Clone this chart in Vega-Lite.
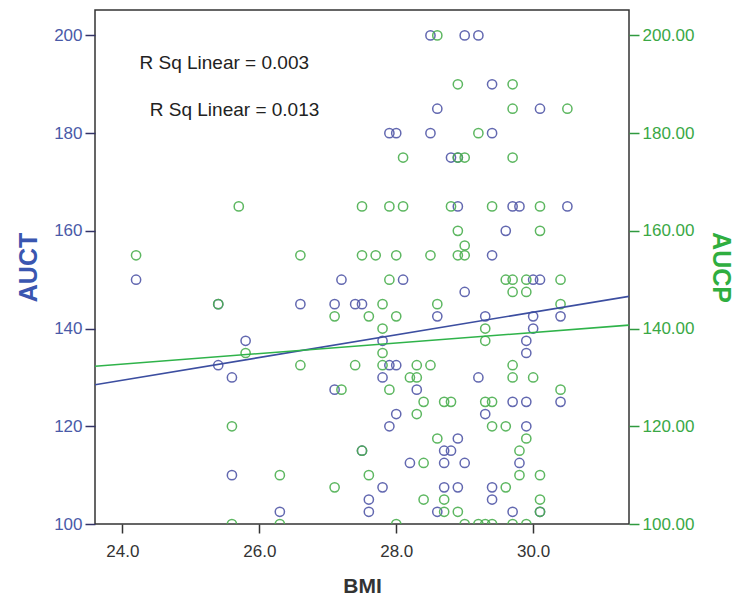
{
  "$schema": "https://vega.github.io/schema/vega-lite/v6.json",
  "width": 534,
  "height": 514,
  "autosize": {"type": "none"},
  "padding": {"left": 95, "top": 10, "right": 110, "bottom": 82},
  "background": "white",
  "config": {
    "view": {"stroke": "#333333", "strokeWidth": 1.5},
    "font": "Liberation Sans",
    "axis": {"grid": false, "labelFont": "Liberation Sans", "titleFont": "Liberation Sans"}
  },
  "datasets": {
    "auct": [
      {"bmi": 24.2, "v": 150}, {"bmi": 25.4, "v": 145}, {"bmi": 25.4, "v": 132.5}, {"bmi": 25.6, "v": 130},
      {"bmi": 25.8, "v": 137.5}, {"bmi": 25.6, "v": 110}, {"bmi": 26.3, "v": 102.5}, {"bmi": 26.6, "v": 145},
      {"bmi": 27.1, "v": 145}, {"bmi": 27.2, "v": 150}, {"bmi": 27.4, "v": 145}, {"bmi": 27.5, "v": 145},
      {"bmi": 27.1, "v": 127.5}, {"bmi": 27.5, "v": 115}, {"bmi": 27.6, "v": 105}, {"bmi": 27.6, "v": 102.5},
      {"bmi": 27.8, "v": 137.5}, {"bmi": 27.8, "v": 130}, {"bmi": 27.8, "v": 107.5}, {"bmi": 27.9, "v": 132.5},
      {"bmi": 28.0, "v": 132.5}, {"bmi": 27.9, "v": 120}, {"bmi": 28.0, "v": 122.5}, {"bmi": 27.9, "v": 180},
      {"bmi": 28.0, "v": 180}, {"bmi": 28.1, "v": 150}, {"bmi": 28.2, "v": 112.5}, {"bmi": 28.3, "v": 127.5},
      {"bmi": 28.5, "v": 200}, {"bmi": 28.5, "v": 180}, {"bmi": 28.6, "v": 185}, {"bmi": 28.6, "v": 142.5},
      {"bmi": 28.6, "v": 102.5}, {"bmi": 28.7, "v": 115}, {"bmi": 28.8, "v": 115}, {"bmi": 28.7, "v": 112.5},
      {"bmi": 28.7, "v": 107.5}, {"bmi": 28.8, "v": 175}, {"bmi": 28.9, "v": 175}, {"bmi": 28.9, "v": 165},
      {"bmi": 28.9, "v": 117.5}, {"bmi": 28.9, "v": 107.5}, {"bmi": 29.0, "v": 147.5}, {"bmi": 29.0, "v": 112.5},
      {"bmi": 29.0, "v": 200}, {"bmi": 29.2, "v": 200}, {"bmi": 29.2, "v": 130}, {"bmi": 29.3, "v": 142.5},
      {"bmi": 29.3, "v": 122.5}, {"bmi": 29.4, "v": 190}, {"bmi": 29.4, "v": 180}, {"bmi": 29.4, "v": 155},
      {"bmi": 29.4, "v": 107.5}, {"bmi": 29.4, "v": 105}, {"bmi": 29.6, "v": 160}, {"bmi": 29.7, "v": 165},
      {"bmi": 29.8, "v": 165}, {"bmi": 29.7, "v": 125}, {"bmi": 29.7, "v": 102.5}, {"bmi": 29.8, "v": 112.5},
      {"bmi": 29.9, "v": 137.5}, {"bmi": 29.9, "v": 135}, {"bmi": 29.9, "v": 125}, {"bmi": 29.9, "v": 120},
      {"bmi": 30.0, "v": 150}, {"bmi": 30.1, "v": 150}, {"bmi": 30.0, "v": 142.5}, {"bmi": 30.0, "v": 140},
      {"bmi": 30.1, "v": 185}, {"bmi": 30.1, "v": 102.5}, {"bmi": 30.4, "v": 142.5}, {"bmi": 30.4, "v": 125},
      {"bmi": 30.5, "v": 165}
    ],
    "aucp": [
      {"bmi": 24.2, "v": 155}, {"bmi": 25.4, "v": 145}, {"bmi": 25.7, "v": 165}, {"bmi": 25.6, "v": 120},
      {"bmi": 25.6, "v": 100}, {"bmi": 25.8, "v": 135}, {"bmi": 26.3, "v": 110}, {"bmi": 26.3, "v": 100},
      {"bmi": 26.6, "v": 155}, {"bmi": 26.6, "v": 132.5}, {"bmi": 27.1, "v": 142.5}, {"bmi": 27.1, "v": 107.5},
      {"bmi": 27.2, "v": 127.5}, {"bmi": 27.4, "v": 132.5}, {"bmi": 27.5, "v": 165}, {"bmi": 27.5, "v": 155},
      {"bmi": 27.5, "v": 115}, {"bmi": 27.6, "v": 142.5}, {"bmi": 27.6, "v": 110}, {"bmi": 27.7, "v": 155},
      {"bmi": 27.8, "v": 145}, {"bmi": 27.8, "v": 140}, {"bmi": 27.8, "v": 135}, {"bmi": 27.8, "v": 132.5},
      {"bmi": 27.9, "v": 165}, {"bmi": 27.9, "v": 150}, {"bmi": 27.9, "v": 127.5}, {"bmi": 28.0, "v": 155},
      {"bmi": 28.0, "v": 142.5}, {"bmi": 28.0, "v": 100}, {"bmi": 28.1, "v": 165}, {"bmi": 28.1, "v": 175},
      {"bmi": 28.2, "v": 130}, {"bmi": 28.3, "v": 132.5}, {"bmi": 28.3, "v": 130}, {"bmi": 28.3, "v": 122.5},
      {"bmi": 28.4, "v": 125}, {"bmi": 28.4, "v": 112.5}, {"bmi": 28.4, "v": 105}, {"bmi": 28.5, "v": 155},
      {"bmi": 28.5, "v": 132.5}, {"bmi": 28.6, "v": 145}, {"bmi": 28.6, "v": 117.5}, {"bmi": 28.7, "v": 125},
      {"bmi": 28.7, "v": 105}, {"bmi": 28.7, "v": 102.5}, {"bmi": 28.8, "v": 165}, {"bmi": 28.8, "v": 125},
      {"bmi": 28.9, "v": 190}, {"bmi": 28.9, "v": 175}, {"bmi": 29.0, "v": 175}, {"bmi": 28.9, "v": 160},
      {"bmi": 28.9, "v": 155}, {"bmi": 29.0, "v": 157}, {"bmi": 29.0, "v": 155}, {"bmi": 28.9, "v": 102.5},
      {"bmi": 29.0, "v": 100}, {"bmi": 29.2, "v": 180}, {"bmi": 29.2, "v": 100}, {"bmi": 29.3, "v": 140},
      {"bmi": 29.3, "v": 137.5}, {"bmi": 29.3, "v": 125}, {"bmi": 29.3, "v": 100}, {"bmi": 29.4, "v": 165},
      {"bmi": 29.4, "v": 125}, {"bmi": 29.4, "v": 120}, {"bmi": 29.4, "v": 100}, {"bmi": 29.6, "v": 150},
      {"bmi": 29.6, "v": 120}, {"bmi": 29.6, "v": 107.5}, {"bmi": 29.7, "v": 190}, {"bmi": 29.7, "v": 185},
      {"bmi": 29.7, "v": 175}, {"bmi": 29.7, "v": 150}, {"bmi": 29.7, "v": 147.5}, {"bmi": 29.7, "v": 132.5},
      {"bmi": 29.7, "v": 130}, {"bmi": 29.7, "v": 100}, {"bmi": 29.8, "v": 115}, {"bmi": 29.8, "v": 110},
      {"bmi": 29.9, "v": 150}, {"bmi": 29.9, "v": 147.5}, {"bmi": 29.9, "v": 117.5}, {"bmi": 29.9, "v": 100},
      {"bmi": 30.0, "v": 130}, {"bmi": 30.1, "v": 165}, {"bmi": 30.1, "v": 160}, {"bmi": 30.1, "v": 110},
      {"bmi": 30.1, "v": 105}, {"bmi": 30.1, "v": 102.5}, {"bmi": 30.4, "v": 150}, {"bmi": 30.4, "v": 145},
      {"bmi": 30.4, "v": 127.5}, {"bmi": 30.5, "v": 185}, {"bmi": 28.6, "v": 200}
    ],
    "fitT": [{"bmi": 23.6, "v": 128.5}, {"bmi": 31.4, "v": 146.6}],
    "fitP": [{"bmi": 23.6, "v": 132.3}, {"bmi": 31.4, "v": 140.7}],
    "labels": [
      {"bmi": 24.25, "v": 194.3, "t": "R Sq Linear = 0.003"},
      {"bmi": 24.4, "v": 184.8, "t": "R Sq Linear = 0.013"}
    ]
  },
  "layer": [
    {
      "data": {"name": "auct"},
      "mark": {"type": "point", "shape": "circle", "filled": false, "size": 85, "strokeWidth": 1.5, "color": "#5258a8", "opacity": 0.9, "clip": true},
      "encoding": {
        "x": {"field": "bmi", "type": "quantitative", "scale": {"domain": [23.6, 31.4], "nice": false, "zero": false},
          "axis": {"title": "BMI", "values": [24, 26, 28, 30], "format": ".1f", "domain": false, "tickColor": "#333333", "tickSize": 9, "tickWidth": 1.5,
            "labelColor": "#333333", "labelFontSize": 17, "labelPadding": 10, "titleFontSize": 21, "titleFontWeight": "bold", "titleColor": "#333333", "titlePadding": 16}},
        "y": {"field": "v", "type": "quantitative", "scale": {"domain": [100, 205.2], "nice": false, "zero": false},
          "axis": {"orient": "left", "title": "AUCT", "values": [100, 120, 140, 160, 180, 200], "format": "d", "domain": false, "tickColor": "#333366", "tickSize": 10, "tickWidth": 1.5,
            "labelColor": "#4a5aa8", "labelFontSize": 17, "labelPadding": 3, "titleFontSize": 25, "titleFontWeight": "bold", "titleColor": "#3a56b0", "titlePadding": 12}}
      }
    },
    {
      "data": {"name": "aucp"},
      "mark": {"type": "point", "shape": "circle", "filled": false, "size": 85, "strokeWidth": 1.5, "color": "#4cb050", "opacity": 0.9, "clip": true},
      "encoding": {
        "x": {"field": "bmi", "type": "quantitative"},
        "y": {"field": "v", "type": "quantitative", "scale": {"domain": [100, 205.2], "nice": false, "zero": false},
          "axis": {"orient": "right", "title": "AUCP", "values": [100, 120, 140, 160, 180, 200], "format": ".2f", "domain": false, "tickColor": "#2f9a3f", "tickSize": 10, "tickWidth": 1.5,
            "labelColor": "#3aa845", "labelFontSize": 17, "labelPadding": 3, "titleFontSize": 25, "titleFontWeight": "bold", "titleColor": "#2fae3f", "titlePadding": 14}}
      }
    },
    {
      "data": {"name": "fitT"},
      "mark": {"type": "line", "color": "#3c4ea0", "strokeWidth": 1.6, "clip": true},
      "encoding": {
        "x": {"field": "bmi", "type": "quantitative"},
        "y": {"field": "v", "type": "quantitative", "scale": {"domain": [100, 205.2], "nice": false, "zero": false}, "axis": null}
      }
    },
    {
      "data": {"name": "fitP"},
      "mark": {"type": "line", "color": "#2fb34a", "strokeWidth": 1.6, "clip": true},
      "encoding": {
        "x": {"field": "bmi", "type": "quantitative"},
        "y": {"field": "v", "type": "quantitative", "scale": {"domain": [100, 205.2], "nice": false, "zero": false}, "axis": null}
      }
    },
    {
      "data": {"name": "labels"},
      "mark": {"type": "text", "align": "left", "baseline": "middle", "fontSize": 19, "color": "#222222", "font": "Liberation Sans"},
      "encoding": {
        "x": {"field": "bmi", "type": "quantitative"},
        "y": {"field": "v", "type": "quantitative", "scale": {"domain": [100, 205.2], "nice": false, "zero": false}, "axis": null},
        "text": {"field": "t"}
      }
    }
  ],
  "resolve": {"scale": {"y": "independent"}, "axis": {"y": "independent"}}
}
